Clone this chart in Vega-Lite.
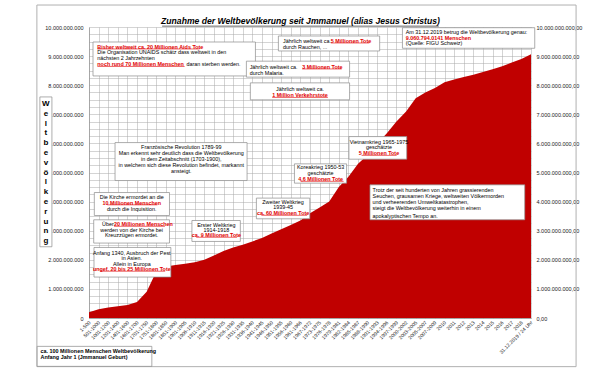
{
  "$schema": "https://vega.github.io/schema/vega-lite/v6.json",
  "width": 442,
  "height": 291,
  "autosize": "none",
  "padding": {"left": 89, "top": 27, "right": 81, "bottom": 54},
  "background": "white",
  "config": {
    "font": "Liberation Sans",
    "view": {"stroke": null},
    "locale": {"number": {"decimal": ",", "thousands": ".", "grouping": [3], "currency": ["", " €"]}}
  },
  "datasets": {
    "bevoelkerung": [
      {"zeitraum": "1-500", "einwohner": 200000000},
      {"zeitraum": "501-1000", "einwohner": 300000000},
      {"zeitraum": "1001-1200", "einwohner": 360000000},
      {"zeitraum": "1201-1400", "einwohner": 400000000},
      {"zeitraum": "1401-1600", "einwohner": 450000000},
      {"zeitraum": "1601-1700", "einwohner": 550000000},
      {"zeitraum": "1701-1750", "einwohner": 900000000},
      {"zeitraum": "1751-1800", "einwohner": 1600000000},
      {"zeitraum": "1801-1850", "einwohner": 1770000000},
      {"zeitraum": "1851-1900", "einwohner": 1820000000},
      {"zeitraum": "1901-1905", "einwohner": 1860000000},
      {"zeitraum": "1906-1910", "einwohner": 1920000000},
      {"zeitraum": "1911-1915", "einwohner": 2000000000},
      {"zeitraum": "1916-1920", "einwohner": 2150000000},
      {"zeitraum": "1921-1925", "einwohner": 2300000000},
      {"zeitraum": "1926-1930", "einwohner": 2420000000},
      {"zeitraum": "1931-1935", "einwohner": 2520000000},
      {"zeitraum": "1936-1940", "einwohner": 2630000000},
      {"zeitraum": "1941-1945", "einwohner": 2750000000},
      {"zeitraum": "1946-1950", "einwohner": 2900000000},
      {"zeitraum": "1951-1955", "einwohner": 3050000000},
      {"zeitraum": "1956-1960", "einwohner": 3200000000},
      {"zeitraum": "1961-1966", "einwohner": 3350000000},
      {"zeitraum": "1967-1972", "einwohner": 3600000000},
      {"zeitraum": "1973-1975", "einwohner": 3800000000},
      {"zeitraum": "1976-1978", "einwohner": 4000000000},
      {"zeitraum": "1979-1981", "einwohner": 4500000000},
      {"zeitraum": "1982-1984", "einwohner": 4850000000},
      {"zeitraum": "1985-1987", "einwohner": 5300000000},
      {"zeitraum": "1988-1990", "einwohner": 5600000000},
      {"zeitraum": "1991-1993", "einwohner": 6000000000},
      {"zeitraum": "1994-1996", "einwohner": 6350000000},
      {"zeitraum": "1997-1999", "einwohner": 6750000000},
      {"zeitraum": "2000-2002", "einwohner": 7100000000},
      {"zeitraum": "2003-2005", "einwohner": 7550000000},
      {"zeitraum": "2005-2007", "einwohner": 7750000000},
      {"zeitraum": "2007-2009", "einwohner": 7900000000},
      {"zeitraum": "2010", "einwohner": 8100000000},
      {"zeitraum": "2011", "einwohner": 8200000000},
      {"zeitraum": "2012", "einwohner": 8280000000},
      {"zeitraum": "2013", "einwohner": 8360000000},
      {"zeitraum": "2014", "einwohner": 8450000000},
      {"zeitraum": "2015", "einwohner": 8550000000},
      {"zeitraum": "2016", "einwohner": 8650000000},
      {"zeitraum": "2017", "einwohner": 8780000000},
      {"zeitraum": "2018", "einwohner": 8900000000},
      {"zeitraum": "31.12.2019 / 24 Uhr", "einwohner": 9060000000}
    ],
    "rahmen": [
      {"x1": -5.424, "x2": 50.69, "y1": 10.755e9, "y2": -1.672e9}
    ],
    "ueberschrift": [
      {"x": 22.01, "y": 10.216e9, "t": "Zunahme der Weltbevölkerung seit Jmmanuel (alias Jesus Christus)"}
    ],
    "kaesten": [
      {"x1": 0.417, "x2": 17.32, "y1": 9.485e9, "y2": 8.318e9},
      {"x1": 19.71, "x2": 30.25, "y1": 9.691e9, "y2": 9.176e9},
      {"x1": 16.38, "x2": 27.12, "y1": 8.826e9, "y2": 8.277e9},
      {"x1": 16.79, "x2": 27.12, "y1": 8.08e9, "y2": 7.497e9},
      {"x1": 32.62, "x2": 46.39, "y1": 9.976e9, "y2": 9.269e9},
      {"x1": 2.71, "x2": 16.45, "y1": 6.028e9, "y2": 4.724e9},
      {"x1": 0.553, "x2": 8.376, "y1": 4.312e9, "y2": 3.522e9},
      {"x1": 0.49, "x2": 8.376, "y1": 3.375e9, "y2": 2.575e9},
      {"x1": 0.52, "x2": 8.52, "y1": 2.424e9, "y2": 1.407e9},
      {"x1": 10.71, "x2": 15.75, "y1": 3.35e9, "y2": 2.63e9},
      {"x1": 17.42, "x2": 22.98, "y1": 4.12e9, "y2": 3.409e9},
      {"x1": 21.38, "x2": 26.81, "y1": 5.297e9, "y2": 4.634e9},
      {"x1": 27.05, "x2": 33.07, "y1": 6.234e9, "y2": 5.458e9},
      {"x1": 29.24, "x2": 45.35, "y1": 4.576e9, "y2": 3.375e9},
      {"x1": -5.393, "x2": 6.54, "y1": -0.975e9, "y2": -1.662e9},
      {"x1": -5.111, "x2": -3.859, "y1": 7.597e9, "y2": 2.448e9}
    ],
    "linien": [
      {"x1": 0.866, "x2": 11.5, "y": 9.245e9, "stil": "rot"},
      {"x1": 0.866, "x2": 9.95, "y": 8.644e9, "stil": "rot"},
      {"x1": 25.17, "x2": 29.17, "y": 9.451e9, "stil": "rot"},
      {"x1": 22.19, "x2": 26.3, "y": 8.558e9, "stil": "rot"},
      {"x1": 19.06, "x2": 24.86, "y": 7.58e9, "stil": "rot"},
      {"x1": 1.909, "x2": 7.124, "y": 3.889e9, "stil": "rot"},
      {"x1": 2.608, "x2": 7.9, "y": 3.151e9, "stil": "rot"},
      {"x1": 1.147, "x2": 7.93, "y": 1.607e9, "stil": "rot"},
      {"x1": 11.16, "x2": 15.41, "y": 2.774e9, "stil": "rot"},
      {"x1": 17.94, "x2": 22.7, "y": 3.529e9, "stil": "rot"},
      {"x1": 22.01, "x2": 26.5, "y": 4.696e9, "stil": "rot"},
      {"x1": 28.37, "x2": 32.02, "y": 5.589e9, "stil": "rot"},
      {"x1": 7.61, "x2": 36.4, "y": 10.03e9, "stil": "titel"}
    ],
    "texte": [
      {"x": 0.866, "y": 9.324e9, "t": "Bisher weltweit ca. 20 Millionen Aids Tote", "ausr": "links", "stil": "rot"},
      {"x": 0.866, "y": 9.131e9, "t": "Die Organisation UNAIDS schätz dass weltweit in den", "ausr": "links", "stil": "normal"},
      {"x": 0.866, "y": 8.936e9, "t": "nächsten 2 Jahrzehnten", "ausr": "links", "stil": "normal"},
      {"x": 0.866, "y": 8.73e9, "t": "noch rund 70 Millionen Menschen", "ausr": "links", "stil": "rot"},
      {"x": 10.15, "y": 8.73e9, "t": "daran sterben werden.", "ausr": "links", "stil": "normal"},
      {"x": 20.2, "y": 9.53e9, "t": "Jährlich weltweit ca.", "ausr": "links", "stil": "normal"},
      {"x": 25.17, "y": 9.53e9, "t": "5 Millionen Tote", "ausr": "links", "stil": "rot"},
      {"x": 20.2, "y": 9.324e9, "t": "durch Rauchen, ...", "ausr": "links", "stil": "normal"},
      {"x": 16.72, "y": 8.637e9, "t": "Jährlich weltweit ca.", "ausr": "links", "stil": "normal"},
      {"x": 22.19, "y": 8.637e9, "t": "3 Millionen Tote", "ausr": "links", "stil": "rot"},
      {"x": 16.72, "y": 8.431e9, "t": "durch Malaria.", "ausr": "links", "stil": "normal"},
      {"x": 21.96, "y": 7.872e9, "t": "Jährlich weltweit ca.", "ausr": "mitte", "stil": "normal"},
      {"x": 21.96, "y": 7.666e9, "t": "1 Million Verkehrstote", "ausr": "mitte", "stil": "rot"},
      {"x": 32.96, "y": 9.818e9, "t": "Am 31.12.2019 betrug die Weltbevölkerung genau:", "ausr": "links", "stil": "normal"},
      {"x": 32.96, "y": 9.633e9, "t": "9.060.794.0141 Menschen", "ausr": "links", "stil": "rot"},
      {"x": 32.96, "y": 9.44e9, "t": "(Quelle: FIGU Schweiz)", "ausr": "links", "stil": "normal"},
      {"x": 9.6, "y": 5.891e9, "t": "Französische Revolution 1789-99", "ausr": "mitte", "stil": "normal"},
      {"x": 9.6, "y": 5.664e9, "t": "Man erkennt sehr deutlich dass die Weltbevölkerung", "ausr": "mitte", "stil": "normal"},
      {"x": 9.6, "y": 5.458e9, "t": "in dem Zeitabschnitt (1703-1900),", "ausr": "mitte", "stil": "normal"},
      {"x": 9.6, "y": 5.263e9, "t": "in welchem sich diese Revolution befindet, markannt", "ausr": "mitte", "stil": "normal"},
      {"x": 9.6, "y": 5.057e9, "t": "ansteigt.", "ausr": "mitte", "stil": "normal"},
      {"x": 4.454, "y": 4.154e9, "t": "Die Kirche ermordet an die", "ausr": "mitte", "stil": "normal"},
      {"x": 4.454, "y": 3.968e9, "t": "10 Millionen Menschen", "ausr": "mitte", "stil": "rot"},
      {"x": 4.454, "y": 3.752e9, "t": "durch die Inquisition.", "ausr": "mitte", "stil": "normal"},
      {"x": 1.356, "y": 3.227e9, "t": "Über", "ausr": "links", "stil": "normal"},
      {"x": 2.608, "y": 3.227e9, "t": "20 Millionen Menschen", "ausr": "links", "stil": "rot"},
      {"x": 4.433, "y": 3.031e9, "t": "werden von der Kirche bei", "ausr": "mitte", "stil": "normal"},
      {"x": 4.433, "y": 2.836e9, "t": "Kreuzzügen ermordet.", "ausr": "mitte", "stil": "normal"},
      {"x": 4.454, "y": 2.231e9, "t": "Anfang 1340, Ausbruch der Pest", "ausr": "mitte", "stil": "normal"},
      {"x": 4.454, "y": 2.06e9, "t": "in Asien.", "ausr": "mitte", "stil": "normal"},
      {"x": 4.454, "y": 1.864e9, "t": "Allein in Europa", "ausr": "mitte", "stil": "normal"},
      {"x": 4.454, "y": 1.682e9, "t": "ungef. 20 bis 25 Millionen Tote", "ausr": "mitte", "stil": "rot"},
      {"x": 13.25, "y": 3.203e9, "t": "Erster Weltkrieg", "ausr": "mitte", "stil": "normal"},
      {"x": 13.25, "y": 3.031e9, "t": "1914-1918", "ausr": "mitte", "stil": "normal"},
      {"x": 13.25, "y": 2.849e9, "t": "ca. 9 Millionen Tote", "ausr": "mitte", "stil": "rot"},
      {"x": 20.2, "y": 4.003e9, "t": "Zweiter Weltkrieg", "ausr": "mitte", "stil": "normal"},
      {"x": 20.2, "y": 3.81e9, "t": "1939-45", "ausr": "mitte", "stil": "normal"},
      {"x": 20.2, "y": 3.605e9, "t": "ca. 60 Millionen Tote", "ausr": "mitte", "stil": "rot"},
      {"x": 24.1, "y": 5.184e9, "t": "Koreakrieg 1950-53", "ausr": "mitte", "stil": "normal"},
      {"x": 24.1, "y": 4.978e9, "t": "geschätzte", "ausr": "mitte", "stil": "normal"},
      {"x": 24.1, "y": 4.772e9, "t": "4,6 Millionen Tote", "ausr": "mitte", "stil": "rot"},
      {"x": 30.18, "y": 6.062e9, "t": "Vietnamkrieg 1965-1975", "ausr": "mitte", "stil": "normal"},
      {"x": 30.18, "y": 5.87e9, "t": "geschätzte", "ausr": "mitte", "stil": "normal"},
      {"x": 30.18, "y": 5.664e9, "t": "5 Millionen Tote", "ausr": "mitte", "stil": "rot"},
      {"x": 29.51, "y": 4.404e9, "t": "Trotz der seit hunderten von Jahren grassierenden", "ausr": "links", "stil": "normal"},
      {"x": 29.51, "y": 4.198e9, "t": "Seuchen, grausamen Kriege, weltweiten Völkermorden", "ausr": "links", "stil": "normal"},
      {"x": 29.51, "y": 4.003e9, "t": "und verheerenden Umweltkatastrophen,", "ausr": "links", "stil": "normal"},
      {"x": 29.51, "y": 3.776e9, "t": "steigt die Weltbevölkerung weiterhin in einem", "ausr": "links", "stil": "normal"},
      {"x": 29.51, "y": 3.512e9, "t": "apokalyptischen Tempo an.", "ausr": "links", "stil": "normal"},
      {"x": -5.038, "y": -1.123e9, "t": "ca. 100 Millionen Menschen Weltbevölkerung", "ausr": "links", "stil": "fett"},
      {"x": -5.038, "y": -1.339e9, "t": "Anfang Jahr 1 (Jmmanuel Geburt)", "ausr": "links", "stil": "fett"}
    ],
    "achsentitel": [
      {"x": -4.485, "y": 7.357e9, "zeilen": ["W", "e", "l", "t", "b", "e", "v", "ö", "l", "k", "e", "r", "u", "n", "g"]}
    ]
  },
  "resolve": {"scale": {"x": "independent"}, "axis": {"y": "independent"}},
  "layer": [
    {
      "data": {"name": "bevoelkerung"},
      "mark": {"type": "area", "color": "#c00000"},
      "encoding": {
        "x": {
          "field": "zeitraum", "type": "ordinal", "sort": null,
          "scale": {"type": "point", "padding": 0},
          "axis": {
            "title": null, "labelAngle": -45, "labelAlign": "right", "labelBaseline": "middle",
            "labelFontSize": 5, "labelColor": "#222222", "labelPadding": 3, "labelOverlap": false,
            "ticks": false, "grid": true, "gridColor": "#a8a8a8", "gridWidth": 0.5,
            "domainColor": "#888888", "domainWidth": 0.6
          }
        },
        "y": {
          "field": "einwohner", "type": "quantitative",
          "scale": {"domain": [0, 10000000000], "nice": false},
          "axis": {
            "title": null, "orient": "left", "format": ",d",
            "values": [0, 2.5e8, 5e8, 7.5e8, 1e9, 1.25e9, 1.5e9, 1.75e9, 2e9, 2.25e9, 2.5e9, 2.75e9, 3e9, 3.25e9, 3.5e9, 3.75e9, 4e9, 4.25e9, 4.5e9, 4.75e9, 5e9, 5.25e9, 5.5e9, 5.75e9, 6e9, 6.25e9, 6.5e9, 6.75e9, 7e9, 7.25e9, 7.5e9, 7.75e9, 8e9, 8.25e9, 8.5e9, 8.75e9, 9e9, 9.25e9, 9.5e9, 9.75e9, 1e10],
            "labelExpr": "datum.value % 1000000000 === 0 ? datum.label : ''",
            "labelOverlap": false, "labelFontSize": 5.5, "labelColor": "#222222", "labelPadding": 6,
            "ticks": false, "grid": true, "gridColor": "#a8a8a8", "gridWidth": 0.5,
            "domainColor": "#888888", "domainWidth": 0.6
          }
        }
      }
    },
    {
      "data": {"name": "bevoelkerung"},
      "mark": {"type": "point", "opacity": 0},
      "encoding": {
        "x": {"field": "zeitraum", "type": "ordinal", "sort": null, "scale": {"type": "point", "padding": 0}, "axis": null},
        "y": {
          "field": "einwohner", "type": "quantitative",
          "scale": {"domain": [0, 10000000000], "nice": false},
          "axis": {
            "title": null, "orient": "right", "format": ",.2f",
            "values": [0, 1e9, 2e9, 3e9, 4e9, 5e9, 6e9, 7e9, 8e9, 9e9, 1e10],
            "labelFontSize": 5.5, "labelColor": "#222222", "labelPadding": 5,
            "ticks": false, "grid": false, "domain": false
          }
        }
      }
    },
    {
      "layer": [
        {
          "data": {"name": "rahmen"},
          "mark": {"type": "rect", "fill": null, "fillOpacity": 0, "stroke": "#b0b0b0", "strokeWidth": 1},
          "encoding": {
            "x": {"field": "x1", "type": "quantitative", "scale": {"domain": [0, 46], "nice": false, "zero": false}, "axis": null},
            "x2": {"field": "x2"},
            "y": {"field": "y1", "type": "quantitative", "scale": {"domain": [0, 10000000000], "nice": false}, "axis": null},
            "y2": {"field": "y2"}
          }
        },
        {
          "data": {"name": "ueberschrift"},
          "mark": {"type": "text", "align": "center", "baseline": "middle", "fontSize": 8.6, "fontWeight": "bold", "fontStyle": "italic", "color": "#000000"},
          "encoding": {
            "x": {"field": "x", "type": "quantitative", "scale": {"domain": [0, 46], "nice": false, "zero": false}, "axis": null},
            "y": {"field": "y", "type": "quantitative", "scale": {"domain": [0, 10000000000], "nice": false}, "axis": null},
            "text": {"field": "t", "type": "nominal"}
          }
        },
        {
          "data": {"name": "kaesten"},
          "mark": {"type": "rect", "fill": "#ffffff", "stroke": "#8a8a8a", "strokeWidth": 0.7},
          "encoding": {
            "x": {"field": "x1", "type": "quantitative", "scale": {"domain": [0, 46], "nice": false, "zero": false}, "axis": null},
            "x2": {"field": "x2"},
            "y": {"field": "y1", "type": "quantitative", "scale": {"domain": [0, 10000000000], "nice": false}, "axis": null},
            "y2": {"field": "y2"}
          }
        },
        {
          "data": {"name": "linien"},
          "mark": {"type": "rule", "strokeWidth": 0.6},
          "encoding": {
            "x": {"field": "x1", "type": "quantitative", "scale": {"domain": [0, 46], "nice": false, "zero": false}, "axis": null},
            "x2": {"field": "x2"},
            "y": {"field": "y", "type": "quantitative", "scale": {"domain": [0, 10000000000], "nice": false}, "axis": null},
            "color": {"field": "stil", "type": "nominal", "scale": {"domain": ["normal", "rot", "fett", "titel"], "range": ["#000000", "#e00000", "#000000", "#000000"]}, "legend": null}
          }
        },
        {
          "data": {"name": "texte"},
          "transform": [{"filter": "datum.ausr === 'links' && datum.stil === 'normal'"}],
          "mark": {"type": "text", "align": "left", "baseline": "middle", "fontSize": 5.4},
          "encoding": {
            "x": {"field": "x", "type": "quantitative", "scale": {"domain": [0, 46], "nice": false, "zero": false}, "axis": null},
            "y": {"field": "y", "type": "quantitative", "scale": {"domain": [0, 10000000000], "nice": false}, "axis": null},
            "text": {"field": "t", "type": "nominal"},
            "color": {"field": "stil", "type": "nominal", "scale": {"domain": ["normal", "rot", "fett", "titel"], "range": ["#000000", "#e00000", "#000000", "#000000"]}, "legend": null}
          }
        },
        {
          "data": {"name": "texte"},
          "transform": [{"filter": "datum.ausr === 'links' && datum.stil !== 'normal'"}],
          "mark": {"type": "text", "align": "left", "baseline": "middle", "fontSize": 5.4, "fontWeight": "bold"},
          "encoding": {
            "x": {"field": "x", "type": "quantitative", "scale": {"domain": [0, 46], "nice": false, "zero": false}, "axis": null},
            "y": {"field": "y", "type": "quantitative", "scale": {"domain": [0, 10000000000], "nice": false}, "axis": null},
            "text": {"field": "t", "type": "nominal"},
            "color": {"field": "stil", "type": "nominal", "scale": {"domain": ["normal", "rot", "fett", "titel"], "range": ["#000000", "#e00000", "#000000", "#000000"]}, "legend": null}
          }
        },
        {
          "data": {"name": "texte"},
          "transform": [{"filter": "datum.ausr === 'mitte' && datum.stil === 'normal'"}],
          "mark": {"type": "text", "align": "center", "baseline": "middle", "fontSize": 5.4},
          "encoding": {
            "x": {"field": "x", "type": "quantitative", "scale": {"domain": [0, 46], "nice": false, "zero": false}, "axis": null},
            "y": {"field": "y", "type": "quantitative", "scale": {"domain": [0, 10000000000], "nice": false}, "axis": null},
            "text": {"field": "t", "type": "nominal"},
            "color": {"field": "stil", "type": "nominal", "scale": {"domain": ["normal", "rot", "fett", "titel"], "range": ["#000000", "#e00000", "#000000", "#000000"]}, "legend": null}
          }
        },
        {
          "data": {"name": "texte"},
          "transform": [{"filter": "datum.ausr === 'mitte' && datum.stil !== 'normal'"}],
          "mark": {"type": "text", "align": "center", "baseline": "middle", "fontSize": 5.4, "fontWeight": "bold"},
          "encoding": {
            "x": {"field": "x", "type": "quantitative", "scale": {"domain": [0, 46], "nice": false, "zero": false}, "axis": null},
            "y": {"field": "y", "type": "quantitative", "scale": {"domain": [0, 10000000000], "nice": false}, "axis": null},
            "text": {"field": "t", "type": "nominal"},
            "color": {"field": "stil", "type": "nominal", "scale": {"domain": ["normal", "rot", "fett", "titel"], "range": ["#000000", "#e00000", "#000000", "#000000"]}, "legend": null}
          }
        },
        {
          "data": {"name": "achsentitel"},
          "mark": {"type": "text", "align": "center", "baseline": "middle", "fontSize": 8, "fontWeight": "bold", "lineHeight": 9.8, "color": "#000000"},
          "encoding": {
            "x": {"field": "x", "type": "quantitative", "scale": {"domain": [0, 46], "nice": false, "zero": false}, "axis": null},
            "y": {"field": "y", "type": "quantitative", "scale": {"domain": [0, 10000000000], "nice": false}, "axis": null},
            "text": {"field": "zeilen", "type": "nominal"}
          }
        }
      ]
    }
  ]
}
